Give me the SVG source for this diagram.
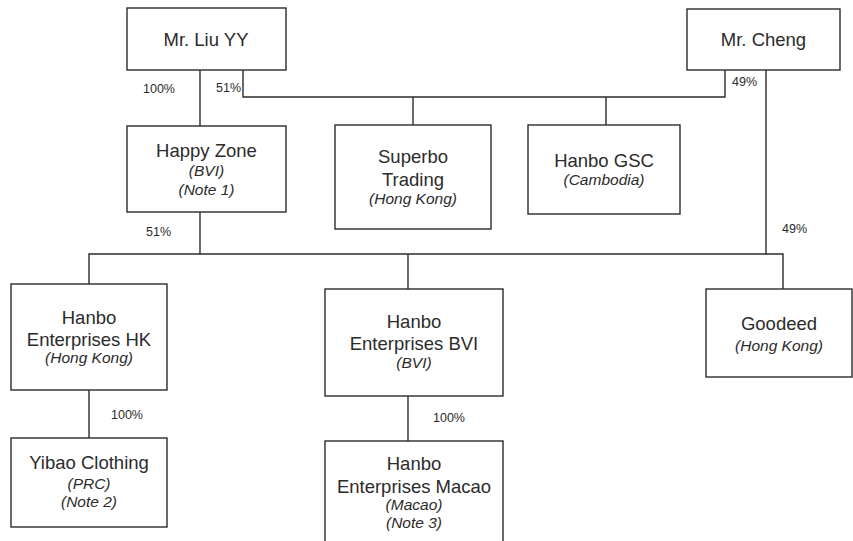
<svg xmlns="http://www.w3.org/2000/svg" width="853" height="541" viewBox="0 0 853 541">
<style>
rect.box{fill:#fff;stroke:#2b2b2b;stroke-width:1.4}
.c path{fill:none;stroke:#2b2b2b;stroke-width:1.4}
text{font-family:"Liberation Sans",Arial,sans-serif;fill:#2b2b2b;text-anchor:middle}
.m{font-size:18.5px}
.i{font-size:15.5px;font-style:italic}
.p{font-size:12.5px;text-anchor:start}
</style>
<rect width="853" height="541" fill="#fff"/>
<g class="c" id="connectors">
<path d="M200 70V126"/>
<path d="M243 70V97H725V70"/>
<path d="M413 97V125"/>
<path d="M606 97V125"/>
<path d="M766 70V254"/>
<path d="M200 212V254"/>
<path d="M89 284V254H783V289"/>
<path d="M408 254V289"/>
<path d="M89 390V438"/>
<path d="M408 396V441"/>
</g>
<g id="labels">
<text class="p" x="143" y="93">100%</text>
<text class="p" x="216" y="92">51%</text>
<text class="p" x="732" y="86">49%</text>
<text class="p" x="782" y="233">49%</text>
<text class="p" x="146" y="236">51%</text>
<text class="p" x="111" y="419">100%</text>
<text class="p" x="433" y="422">100%</text>
</g>
<g id="liu"><rect class="box" x="127" y="8" width="159" height="62"/><text class="m" x="206" y="46">Mr. Liu YY</text></g>
<g id="cheng"><rect class="box" x="687" y="9" width="153" height="61"/><text class="m" x="763.5" y="46">Mr. Cheng</text></g>
<g id="happyzone"><rect class="box" x="127" y="126" width="159" height="86"/><text class="m" x="206.5" y="157">Happy Zone</text><text class="i" x="206.5" y="176">(BVI)</text><text class="i" x="206.5" y="195">(Note 1)</text></g>
<g id="superbo"><rect class="box" x="335" y="125" width="156" height="104"/><text class="m" x="413" y="163">Superbo</text><text class="m" x="413" y="186">Trading</text><text class="i" x="413" y="204">(Hong Kong)</text></g>
<g id="hanbogsc"><rect class="box" x="528" y="125" width="152" height="89"/><text class="m" x="604" y="167">Hanbo GSC</text><text class="i" x="604" y="185">(Cambodia)</text></g>
<g id="hanbohk"><rect class="box" x="11" y="284" width="156" height="106"/><text class="m" x="89" y="324">Hanbo</text><text class="m" x="89" y="346">Enterprises HK</text><text class="i" x="89" y="363">(Hong Kong)</text></g>
<g id="hanbobvi"><rect class="box" x="325" y="289" width="178" height="107"/><text class="m" x="414" y="328">Hanbo</text><text class="m" x="414" y="350">Enterprises BVI</text><text class="i" x="414" y="368">(BVI)</text></g>
<g id="goodeed"><rect class="box" x="706" y="289" width="146" height="88"/><text class="m" x="779" y="330">Goodeed</text><text class="i" x="779" y="351">(Hong Kong)</text></g>
<g id="yibao"><rect class="box" x="11" y="438" width="156" height="89"/><text class="m" x="89" y="469">Yibao Clothing</text><text class="i" x="89" y="489">(PRC)</text><text class="i" x="89" y="507">(Note 2)</text></g>
<g id="macao"><rect class="box" x="325" y="441" width="178" height="110"/><text class="m" x="414" y="470">Hanbo</text><text class="m" x="414" y="493">Enterprises Macao</text><text class="i" x="414" y="510">(Macao)</text><text class="i" x="414" y="528">(Note 3)</text></g>
</svg>
